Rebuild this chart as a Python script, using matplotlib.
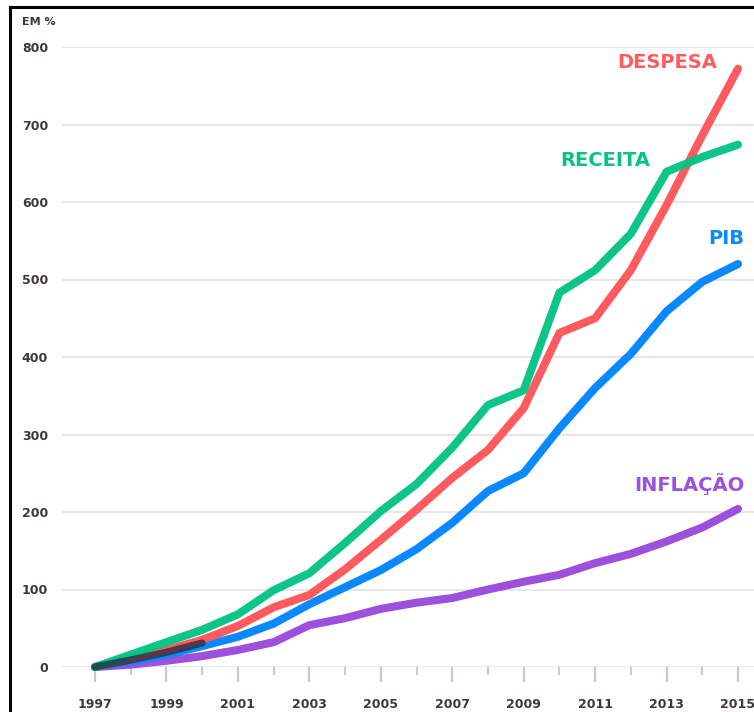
import matplotlib
matplotlib.use("Agg")
import matplotlib.pyplot as plt
from matplotlib.lines import Line2D

years = list(range(1997, 2016))
despesa = [0, 11, 22, 35, 53, 77, 93, 126, 164, 203, 244, 280, 334, 431, 450, 512, 596, 686, 772]
receita = [0, 16, 32, 48, 68, 99, 121, 160, 201, 236, 283, 338, 357, 483, 512, 559, 639, 658, 674]
pib = [0, 7, 16, 27, 39, 56, 81, 103, 125, 152, 186, 227, 250, 308, 360, 404, 459, 497, 520]
inflacao = [0, 3, 8, 14, 22, 32, 54, 63, 75, 83, 89, 100, 110, 119, 134, 146, 162, 180, 204]
y_ticks = [0, 100, 200, 300, 400, 500, 600, 700, 800]
labels = ["DESPESA", "RECEITA", "PIB", "INFLAÇÃO"]

c_red = "#FF5B5E"
c_green = "#05C285"
c_blue = "#0A89FF"
c_purple = "#9D50DB"
c_text = "#403838"

W, H = 754, 712
fig = plt.figure(figsize=(W / 100, H / 100), dpi=100)
ax = fig.add_axes([62 / W, (H - 667) / H, 1 - 62 / W, (667 - 47) / H])

ax.set_xlim(1997 - 33 / 35.72, 2015 + 16 / 35.72)
ax.set_ylim(0, 800)

for s in ax.spines.values():
    s.set_visible(False)

ax.set_yticks(y_ticks)
ax.yaxis.grid(True, color="#e6e6e6", linewidth=1.4)
ax.set_axisbelow(True)
ax.tick_params(axis="y", length=0, pad=10, labelsize=9, labelcolor=c_text)
for t in ax.get_yticklabels():
    t.set_fontfamily("DejaVu Sans")
    t.set_fontweight("bold")

major = [y for y in years if (y - 1997) % 2 == 0]
minor = [y for y in years if (y - 1997) % 2 == 1]
ax.set_xticks(major)
ax.set_xticklabels([str(y) for y in major])
ax.set_xticks(minor, minor=True)
ax.tick_params(axis="x", which="major", length=11, width=1.6, color="#c3cad2",
               pad=11, labelsize=9, labelcolor=c_text)
ax.tick_params(axis="x", which="minor", length=6, width=1.6, color="#c3cad2")
for t in ax.get_xticklabels():
    t.set_fontfamily("DejaVu Sans")
    t.set_fontweight("bold")

lw = 5.8
ax.plot(years, inflacao, color=c_purple, lw=lw, solid_capstyle="round", solid_joinstyle="round", clip_on=False, zorder=3)
ax.plot(years, pib, color=c_blue, lw=lw, solid_capstyle="round", solid_joinstyle="round", clip_on=False, zorder=4)
ax.plot(years, despesa, color=c_red, lw=lw, solid_capstyle="round", solid_joinstyle="round", clip_on=False, zorder=5)
ax.plot(years, receita, color=c_green, lw=lw, solid_capstyle="round", solid_joinstyle="round", clip_on=False, zorder=6, alpha=0.97)

# dark overlap at the start where all lines meet
mix = [(d + p) / 2 for d, p in zip(despesa[:4], pib[:4])]
ax.plot(years[:4], mix, color="#1e2a45", lw=5.2, solid_capstyle="round", clip_on=False, zorder=7, alpha=0.75)

lab_kw = dict(fontfamily="DejaVu Sans", fontweight="bold", fontsize=14, ha="right", va="center")
fig.text(717 / W, 1 - 63 / H, labels[0], color=c_red, **lab_kw)
fig.text(650 / W, 1 - 160 / H, labels[1], color=c_green, **lab_kw)
fig.text(744 / W, 1 - 238 / H, labels[2], color=c_blue, **lab_kw)
fig.text(745 / W, 1 - 484 / H, labels[3], color=c_purple, **lab_kw)

fig.text(22 / W, 1 - 22 / H, "EM %", fontfamily="DejaVu Sans", fontweight="bold", fontsize=8,
         color=c_text, ha="left", va="center")

# frame of the source document
fig.add_artist(Line2D([10 / W, 10 / W], [0, 1 - 7 / H], color="black", lw=2.2, transform=fig.transFigure))
fig.add_artist(Line2D([10 / W, 1], [1 - 7 / H, 1 - 7 / H], color="black", lw=2.2, transform=fig.transFigure))

fig.savefig("out.png", dpi=100)
